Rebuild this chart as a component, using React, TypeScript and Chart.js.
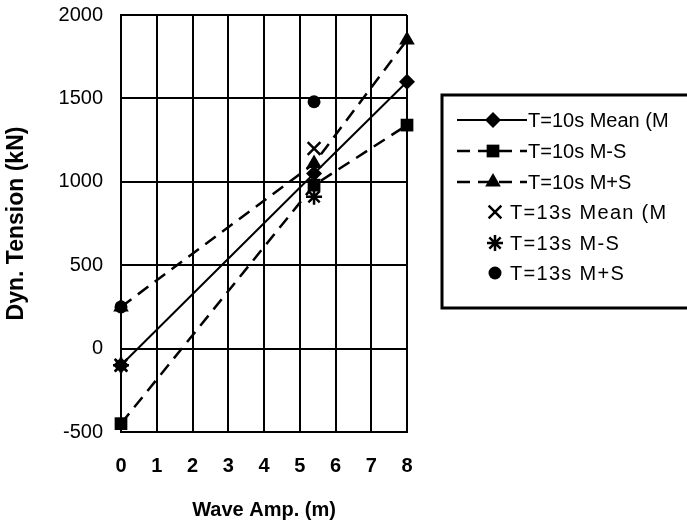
import React, { useEffect, useRef } from 'react';
import { Chart, registerables } from 'chart.js';

Chart.register(...registerables);

const FONT = "'Liberation Sans', Arial, Helvetica, sans-serif";

// Wave amplitude (m) values
const waveAmp10 = [0, 5.4, 8];
const waveAmp13 = [0, 5.4];

// Dynamic tension (kN)
const mean10 = [-100, 1050, 1600];
const minusS10 = [-450, 980, 1340];
const plusS10 = [250, 1110, 1850];
const mean13 = [-100, 1200];
const minusS13 = [-100, 910];
const plusS13 = [250, 1480];

const seriesLabels = [
  'T=10s Mean (M)',
  'T=10s M-S',
  'T=10s M+S',
  'T=13s Mean (M)',
  'T=13s M-S',
  'T=13s M+S',
];

const yMin = -500;
const yMax = 2000;
const yStep = 500;
const xMin = 0;
const xMax = 8;
const xStep = 1;

function pts(xs: number[], ys: number[]) {
  return xs.map((x, i) => ({ x, y: ys[i] }));
}

function drawMarker(ctx: CanvasRenderingContext2D, style: string, x: number, y: number, r: number) {
  ctx.save();
  ctx.fillStyle = '#000';
  ctx.strokeStyle = '#000';
  ctx.lineWidth = 2.5;
  ctx.setLineDash([]);
  ctx.beginPath();
  if (style === 'rectRot') {
    ctx.moveTo(x, y - r);
    ctx.lineTo(x + r, y);
    ctx.lineTo(x, y + r);
    ctx.lineTo(x - r, y);
    ctx.closePath();
    ctx.fill();
  } else if (style === 'rect') {
    const s = r * Math.SQRT1_2;
    ctx.rect(x - s, y - s, 2 * s, 2 * s);
    ctx.fill();
  } else if (style === 'triangle') {
    for (let k = 0; k < 3; k++) {
      const a = (k * 2 * Math.PI) / 3;
      const px = x + Math.sin(a) * r;
      const py = y - Math.cos(a) * r;
      if (k === 0) ctx.moveTo(px, py);
      else ctx.lineTo(px, py);
    }
    ctx.closePath();
    ctx.fill();
  } else if (style === 'circle') {
    ctx.arc(x, y, r, 0, Math.PI * 2);
    ctx.fill();
  } else if (style === 'crossRot' || style === 'star') {
    const d = r * Math.SQRT1_2;
    ctx.moveTo(x - d, y - d);
    ctx.lineTo(x + d, y + d);
    ctx.moveTo(x - d, y + d);
    ctx.lineTo(x + d, y - d);
    if (style === 'star') {
      ctx.moveTo(x, y - r);
      ctx.lineTo(x, y + r);
      ctx.moveTo(x - r, y);
      ctx.lineTo(x + r, y);
    }
    ctx.stroke();
  }
  ctx.restore();
}

const boxedLegend = {
  id: 'boxedLegend',
  afterDraw(chart: any) {
    const ctx: CanvasRenderingContext2D = chart.ctx;
    const boxLeft = 442;
    const boxTop = 95;
    const boxBottom = 308;
    ctx.save();
    ctx.strokeStyle = '#000';
    ctx.lineWidth = 3;
    ctx.strokeRect(boxLeft, boxTop, 400, boxBottom - boxTop);

    const rows = [120, 151, 182, 212, 243, 273];
    ctx.beginPath();
    ctx.rect(boxLeft, boxTop, 668 - boxLeft, boxBottom - boxTop);
    ctx.clip();
    chart.data.datasets.forEach((ds: any, i: number) => {
      const y = rows[i];
      const hasLine = !!ds.showLine;
      if (hasLine) {
        ctx.save();
        ctx.strokeStyle = '#000';
        ctx.lineWidth = ds.borderWidth;
        ctx.setLineDash(ds.borderDash || []);
        ctx.beginPath();
        ctx.moveTo(457, y);
        ctx.lineTo(527, y);
        ctx.stroke();
        ctx.restore();
        drawMarker(ctx, ds.pointStyle, 493, y, ds.pointRadius);
      } else {
        drawMarker(ctx, ds.pointStyle, 495, y, ds.pointRadius);
      }
      ctx.save();
      ctx.fillStyle = '#000';
      ctx.font = `20px ${FONT}`;
      (ctx as any).letterSpacing = hasLine ? '0px' : '1.3px';
      ctx.textBaseline = 'middle';
      ctx.textAlign = 'left';
      ctx.fillText(ds.label, hasLine ? 528 : 510, y + 1);
      ctx.restore();
    });
    ctx.restore();
  },
};

export default function App() {
  const ref = useRef<HTMLCanvasElement>(null);

  useEffect(() => {
    const canvas = ref.current;
    if (!canvas) return;
    const common = {
      borderColor: '#000',
      backgroundColor: '#000',
      pointBackgroundColor: '#000',
      pointBorderColor: '#000',
      clip: false as any,
    };
    const chart = new Chart(canvas, {
      type: 'scatter',
      data: {
        datasets: [
          {
            ...common,
            label: seriesLabels[0],
            data: pts(waveAmp10, mean10),
            showLine: true,
            borderWidth: 2,
            pointStyle: 'rectRot',
            pointRadius: 8,
            pointBorderWidth: 0,
          },
          {
            ...common,
            label: seriesLabels[1],
            data: pts(waveAmp10, minusS10),
            showLine: true,
            borderWidth: 2.5,
            borderDash: [13, 8],
            pointStyle: 'rect',
            pointRadius: 9,
            pointBorderWidth: 0,
          },
          {
            ...common,
            label: seriesLabels[2],
            data: pts(waveAmp10, plusS10),
            showLine: true,
            borderWidth: 2.5,
            borderDash: [13, 8],
            pointStyle: 'triangle',
            pointRadius: 9,
            pointBorderWidth: 0,
          },
          {
            ...common,
            label: seriesLabels[3],
            data: pts(waveAmp13, mean13),
            showLine: false,
            borderWidth: 2,
            pointStyle: 'crossRot',
            pointRadius: 9,
            pointBorderWidth: 2.5,
          },
          {
            ...common,
            label: seriesLabels[4],
            data: pts(waveAmp13, minusS13),
            showLine: false,
            borderWidth: 2,
            pointStyle: 'star',
            pointRadius: 8,
            pointBorderWidth: 2.5,
          },
          {
            ...common,
            label: seriesLabels[5],
            data: pts(waveAmp13, plusS13),
            showLine: false,
            borderWidth: 2,
            pointStyle: 'circle',
            pointRadius: 6.5,
            pointBorderWidth: 0,
          },
        ] as any,
      },
      options: {
        responsive: false,
        animation: false,
        devicePixelRatio: 1,
        layout: { padding: { top: 0, right: 280, bottom: 0, left: 0 } },
        plugins: {
          legend: { display: false },
          tooltip: { enabled: false },
        },
        scales: {
          x: {
            type: 'linear',
            min: xMin,
            max: xMax,
            ticks: {
              stepSize: xStep,
              color: '#000',
              padding: 22,
              font: { family: FONT, size: 20, weight: 'bold' },
              callback: (v: any) => String(v),
            },
            grid: { color: '#000', lineWidth: 2, drawTicks: false },
            border: { display: true, color: '#000', width: 2 },
            title: {
              display: true,
              text: 'Wave Amp. (m)',
              color: '#000',
              font: { family: FONT, size: 20, weight: 'bold' },
              padding: { top: 0, bottom: 2 },
            },
            afterFit: (scale: any) => {
              scale.height = 92;
              scale.paddingLeft = 0;
              scale.paddingRight = 0;
            },
          },
          y: {
            type: 'linear',
            min: yMin,
            max: yMax,
            ticks: {
              stepSize: yStep,
              color: '#000',
              padding: 18,
              font: { family: FONT, size: 20 },
              callback: (v: any) => String(v),
            },
            grid: { color: '#000', lineWidth: 2, drawTicks: false },
            border: { display: true, color: '#000', width: 2 },
            title: {
              display: true,
              text: 'Dyn. Tension (kN)',
              color: '#000',
              font: { family: FONT, size: 23, weight: 'bold' },
              padding: { top: 3, bottom: 0 },
            },
            afterFit: (scale: any) => {
              scale.width = 121;
              scale.paddingTop = 15;
              scale.paddingBottom = 0;
            },
          },
        },
      } as any,
      plugins: [boxedLegend],
    });
    return () => chart.destroy();
  }, []);

  return (
    <div style={{ position: 'absolute', left: 0, top: 0, width: 687, height: 524, overflow: 'hidden', background: '#fff' }}>
      <canvas ref={ref} width={687} height={524} />
    </div>
  );
}
